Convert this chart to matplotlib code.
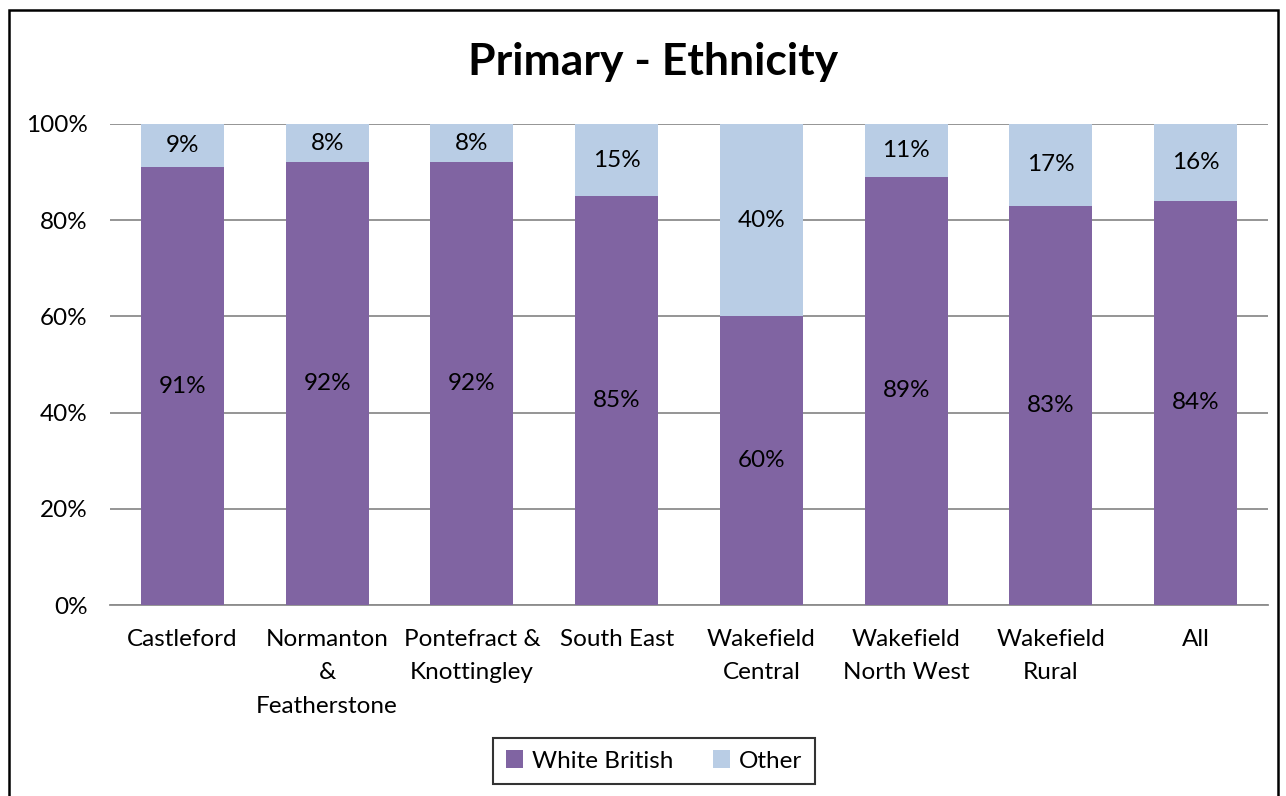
import matplotlib.pyplot as plt
from matplotlib.patches import Rectangle
import numpy as np

plt.rcParams['font.family'] = ['Lato', 'DejaVu Sans']

categories = ["Castleford", "Normanton\n&\nFeatherstone", "Pontefract &\nKnottingley",
              "South East", "Wakefield\nCentral", "Wakefield\nNorth West",
              "Wakefield\nRural", "All"]
white_british = [91, 92, 92, 85, 60, 89, 83, 84]
other = [9, 8, 8, 15, 40, 11, 17, 16]

purple = "#8064A2"
light_blue = "#B9CDE5"
grid_grey = "#8C8C8C"

fig = plt.figure(figsize=(12.86, 7.96), dpi=100)
ax = fig.add_axes([110 / 1286, 1 - 605 / 796, 1158 / 1286, 481 / 796])

x = np.arange(len(categories))
width = 0.575
b1 = ax.bar(x, white_british, width, color=purple, label="White British", zorder=3)
b2 = ax.bar(x, other, width, bottom=white_british, color=light_blue, label="Other", zorder=3)

for bars, vals, bottoms in [(b1, white_british, [0] * len(x)), (b2, other, white_british)]:
    for bar, v, b in zip(bars, vals, bottoms):
        ax.text(bar.get_x() + bar.get_width() / 2, b + v / 2, f"{v}%",
                ha='center', va='center', fontsize=17.5, color='black', zorder=4)

ax.set_xlim(-0.5, len(x) - 0.5)
ax.set_ylim(0, 100)
ax.set_yticks(range(0, 101, 20))
ax.set_yticklabels([f"{t}%" for t in range(0, 101, 20)])
ax.set_xticks(x)
ax.set_xticklabels(categories, linespacing=1.75)
ax.tick_params(axis='both', length=0, labelsize=17.5)
ax.tick_params(axis='y', pad=16)
ax.tick_params(axis='x', pad=17)
for lbl in ax.get_xticklabels():
    lbl.set_verticalalignment('top')

ax.yaxis.grid(True, color=grid_grey, linewidth=1.3, zorder=0)
for side in ['left', 'right', 'top']:
    ax.spines[side].set_visible(False)
ax.spines['bottom'].set_color(grid_grey)
ax.spines['bottom'].set_linewidth(1.3)

fig.text(653 / 1286, 1 - 62 / 796, "Primary - Ethnicity", ha='center', va='center',
         fontsize=32, fontweight='bold')

leg = fig.legend(loc='center', bbox_to_anchor=(654 / 1286, 1 - 761 / 796), ncol=2,
                 frameon=True, fancybox=False, edgecolor='black', fontsize=17.5,
                 handlelength=0.7, handleheight=0.7, handletextpad=0.4,
                 columnspacing=1.6, borderpad=0.5)
leg.get_frame().set_linewidth(1.5)

fig.patches.append(Rectangle((9 / 1286, -0.05), 1269 / 1286, 1.05 - 10 / 796,
                             transform=fig.transFigure, fill=False,
                             edgecolor='black', linewidth=1.8))

fig.savefig("out.png", dpi=100)
